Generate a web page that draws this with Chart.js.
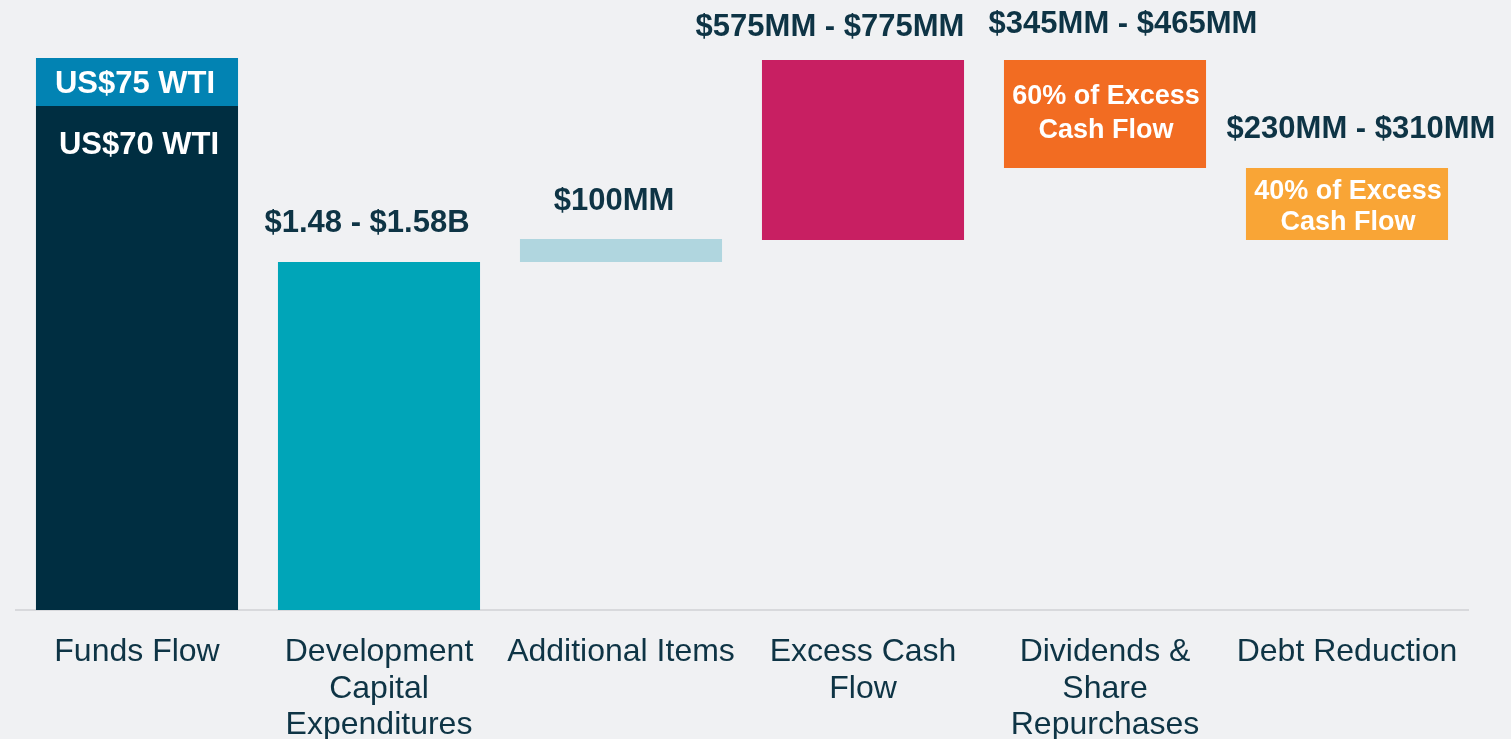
<!DOCTYPE html>
<html>
<head>
<meta charset="utf-8">
<script src="https://cdn.jsdelivr.net/npm/chart.js@4/dist/chart.umd.min.js"></script>
<style>
  html, body { margin: 0; padding: 0; background: #f0f1f3; }
  #wrap { width: 1511px; height: 739px; position: relative; }
</style>
</head>
<body>
<div id="wrap"><canvas id="c" width="1511" height="739"></canvas></div>
<script>
// ---- Data (approx. $MM) ----
const categories = [
  ['Funds Flow'],
  ['Development', 'Capital', 'Expenditures'],
  ['Additional Items'],
  ['Excess Cash', 'Flow'],
  ['Dividends &', 'Share', 'Repurchases'],
  ['Debt Reduction']
];
const barLow  = [0,    0,    1462, 1554, 1856, 1554];
const barHigh = [2117, 1462, 1558, 2310, 2310, 1856];
const wti75Low  = [2117, null, null, null, null, null];
const wti75High = [2318, null, null, null, null, null];
const valueLabels = ['US$70 WTI', '$1.48 - $1.58B', '$100MM', '$575MM - $775MM', '$345MM - $465MM', '$230MM - $310MM'];
const wti75Label = 'US$75 WTI';
const shareLabels = [null, null, null, null, ['60% of Excess', 'Cash Flow'], ['40% of Excess', 'Cash Flow']];

const barColors = ['#002e41', '#00a5b8', '#b0d6df', '#c81f62', '#f26c22', '#f9a536'];
const TEXT = '#0e3445';
const FONT = '"Liberation Sans", Arial, sans-serif';

const mainData = barLow.map((lo, i) => [lo, barHigh[i]]);
const wtiData = wti75Low.map((lo, i) => lo === null ? null : [lo, wti75High[i]]);

const labelPlugin = {
  id: 'labels',
  afterDatasetsDraw(chart) {
    const ctx = chart.ctx;
    const meta = chart.getDatasetMeta(0);
    const meta75 = chart.getDatasetMeta(1);
    ctx.save();
    ctx.textAlign = 'center';
    ctx.textBaseline = 'middle';
    // offsets (pixel tweaks) for each category's main label
    const dx = [2, -12, -7, -33, 18, 14];
    const dy = [40, -38.5, -37.5, -32.5, -35.5, -38.5];
    meta.data.forEach((bar, i) => {
      const top = Math.min(bar.y, bar.base);
      ctx.font = 'bold 31px ' + FONT;
      ctx.fillStyle = i === 0 ? '#ffffff' : TEXT;
      ctx.fillText(valueLabels[i], bar.x + dx[i], top + dy[i]);
      if (shareLabels[i]) {
        ctx.font = 'bold 27px ' + FONT;
        ctx.fillStyle = '#ffffff';
        const start = i === 4 ? 37 : 23.5;
        const step = i === 4 ? 34 : 31;
        shareLabels[i].forEach((line, k) => {
          ctx.fillText(line, bar.x + 1, top + start + k * step);
        });
      }
    });
    const b75 = meta75.data[0];
    if (b75) {
      ctx.font = 'bold 31px ' + FONT;
      ctx.fillStyle = '#ffffff';
      ctx.fillText(wti75Label, b75.x - 2, (b75.y + b75.base) / 2 + 2);
    }
    ctx.restore();
  }
};

new Chart(document.getElementById('c'), {
  type: 'bar',
  data: {
    labels: categories,
    datasets: [
      {
        data: mainData,
        backgroundColor: barColors,
        borderWidth: 0,
        grouped: false,
        barPercentage: 0.835,
        categoryPercentage: 1.0
      },
      {
        data: wtiData,
        backgroundColor: '#0283b3',
        borderWidth: 0,
        grouped: false,
        barPercentage: 0.835,
        categoryPercentage: 1.0
      }
    ]
  },
  options: {
    responsive: false,
    animation: false,
    devicePixelRatio: 1,
    layout: { padding: { left: 16, right: 43, top: 0, bottom: 0 } },
    plugins: { legend: { display: false }, tooltip: { enabled: false } },
    scales: {
      x: {
        grid: { display: false, drawTicks: false },
        border: { display: true, color: '#d8d9dc', width: 2 },
        ticks: {
          autoSkip: false,
          maxRotation: 0,
          minRotation: 0,
          padding: 24,
          color: TEXT,
          font: { family: FONT, size: 32, lineHeight: 1.14 }
        },
        afterFit(scale) { scale.height = 129; }
      },
      y: {
        display: false,
        min: 0,
        max: 2562
      }
    }
  },
  plugins: [labelPlugin]
});
</script>
</body>
</html>
